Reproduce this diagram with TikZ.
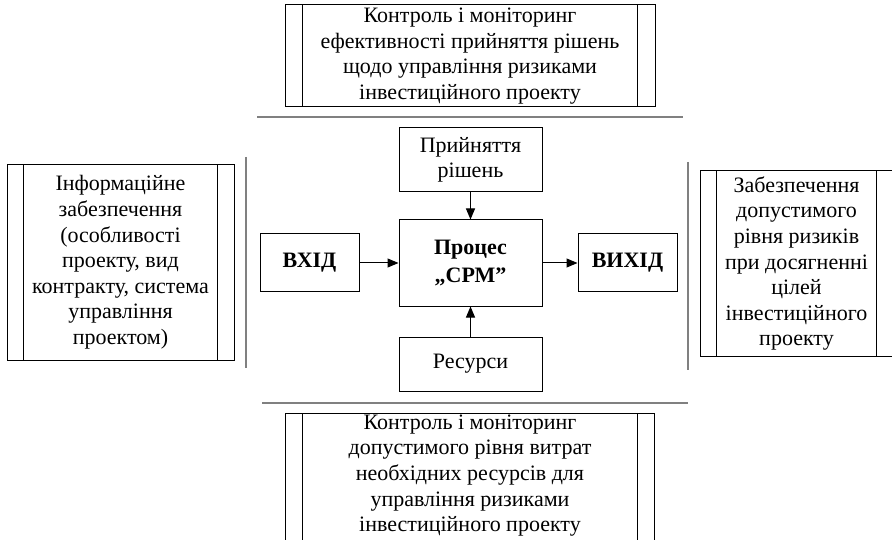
\documentclass[tikz,border=0pt]{standalone}
\usepackage{fontspec}
\setmainfont{Liberation Serif}
\usetikzlibrary{arrows.meta,calc}
\definecolor{sepgray}{RGB}{128,128,128}
\begin{document}
\begin{tikzpicture}[x=1pt,y=-1pt,
  box/.style={draw=black,line width=1pt,inner sep=0pt,align=center,font=\fontsize{22}{25.6}\selectfont},
  bbox/.style={box,font=\fontsize{22}{28.5}\selectfont\bfseries},
  inner/.style={draw=black,line width=1pt},
  sepline/.style={draw=sepgray,line width=2pt},
  arr/.style={draw=black,line width=1pt,-{Triangle[length=11pt,width=9pt]}}]
\clip (0,0) rectangle (892,540);
% top box
\node[box,minimum width=370pt,minimum height=102pt] (top) at (470,56)
  {Контроль і моніторинг\\ефективності прийняття рішень\\щодо управління ризиками\\інвестиційного проекту};
\draw[inner] ($(top.north west)+(18,0)$) -- ($(top.south west)+(18,0)$);
\draw[inner] ($(top.north east)+(-18,0)$) -- ($(top.south east)+(-18,0)$);
% left box
\node[box,minimum width=227pt,minimum height=195pt] (left) at (120.5,262.5)
  {Інформаційне\\забезпечення\\(особливості\\проекту, вид\\контракту, система\\управління\\проектом)};
\draw[inner] ($(left.north west)+(17,0)$) -- ($(left.south west)+(17,0)$);
\draw[inner] ($(left.north east)+(-17,0)$) -- ($(left.south east)+(-17,0)$);
% right box
\node[box,minimum width=193pt,minimum height=185pt] (right) at (796.5,263.5)
  {Забезпечення\\допустимого\\рівня ризиків\\при досягненні\\цілей\\інвестиційного\\проекту};
\draw[inner] ($(right.north west)+(17,0)$) -- ($(right.south west)+(17,0)$);
\draw[inner] ($(right.north east)+(-17,0)$) -- ($(right.south east)+(-17,0)$);
% central boxes
\node[box,minimum width=143pt,minimum height=64pt] (dec) at (470.5,160) {Прийняття\\рішень};
\node[bbox,minimum width=143pt,minimum height=86pt] (proc) at (470.5,263) {Процес\\„СРМ”};
\node[bbox,minimum width=99pt,minimum height=58pt] (vin) at (309.5,263) {ВХІД};
\node[bbox,minimum width=99pt,minimum height=58pt] (vout) at (627.5,263) {ВИХІД};
\node[box,minimum width=143pt,minimum height=54pt] (res) at (470.5,364) {Ресурси};
% arrows
\draw[arr] (dec) -- (proc);
\draw[arr] (res) -- (proc);
\draw[arr] (vin) -- (proc);
\draw[arr] (proc) -- (vout);
% bottom box
\node[box,draw=none,minimum width=368pt,minimum height=121pt] (bot) at (470,475.5)
  {Контроль і моніторинг\\допустимого рівня витрат\\необхідних ресурсів для\\управління ризиками\\інвестиційного проекту};
\draw[inner] ([yshift=1pt]bot.north west) -- ++(0,140);
\draw[inner] ([yshift=1pt]bot.north west) -- ([yshift=1pt]bot.north east);
\draw[inner] ([yshift=1pt]bot.north east) -- ++(0,140);
\draw[inner] ($([yshift=1pt]bot.north west)+(17,0)$) -- ++(0,140);
\draw[inner] ($([yshift=1pt]bot.north east)+(-17,0)$) -- ++(0,140);
% separator lines
\draw[sepline] (257,117) -- (683,117);
\draw[sepline] (262,403) -- (688,403);
\draw[sepline] (246,157) -- (246,368);
\draw[sepline] (688,162) -- (688,370);
\end{tikzpicture}
\end{document}
